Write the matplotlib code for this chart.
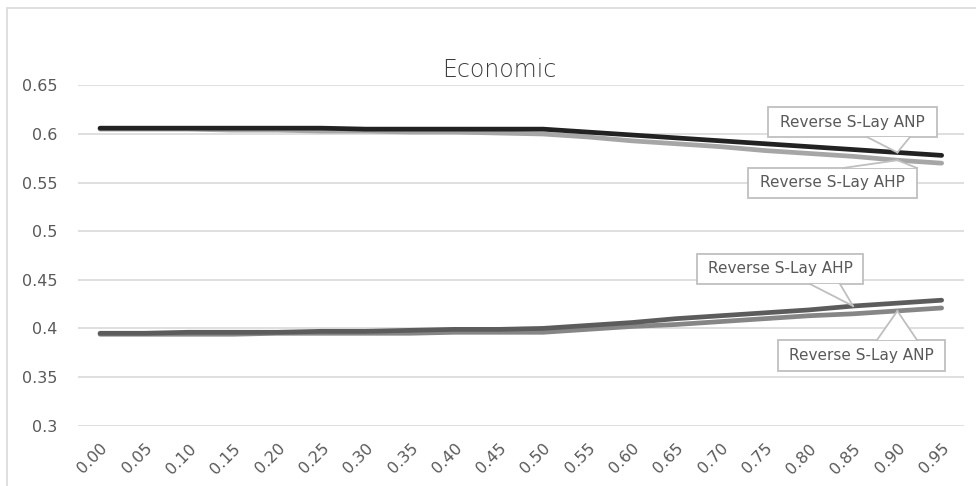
import matplotlib
matplotlib.use("Agg")
import matplotlib.pyplot as plt
from matplotlib.patches import Rectangle, Polygon
from matplotlib.lines import Line2D

# ---- data ----
categories = ["0.00", "0.05", "0.10", "0.15", "0.20", "0.25", "0.30", "0.35", "0.40", "0.45",
              "0.50", "0.55", "0.60", "0.65", "0.70", "0.75", "0.80", "0.85", "0.90", "0.95"]
anp_upper = [0.606, 0.606, 0.606, 0.606, 0.606, 0.606, 0.605, 0.605, 0.605, 0.605,
             0.605, 0.602, 0.599, 0.596, 0.593, 0.590, 0.587, 0.584, 0.581, 0.578]
ahp_upper = [0.605, 0.605, 0.605, 0.604, 0.604, 0.603, 0.603, 0.602, 0.602, 0.601,
             0.600, 0.597, 0.593, 0.590, 0.587, 0.583, 0.580, 0.577, 0.573, 0.570]
ahp_lower = [0.395, 0.395, 0.396, 0.396, 0.396, 0.397, 0.397, 0.398, 0.399, 0.399,
             0.400, 0.403, 0.406, 0.410, 0.413, 0.416, 0.419, 0.423, 0.426, 0.429]
anp_lower = [0.394, 0.394, 0.394, 0.394, 0.395, 0.395, 0.395, 0.395, 0.396, 0.396,
             0.396, 0.399, 0.402, 0.404, 0.407, 0.410, 0.413, 0.415, 0.418, 0.421]
yticks = [0.3, 0.35, 0.4, 0.45, 0.5, 0.55, 0.6, 0.65]
ytick_labels = ["0.3", "0.35", "0.4", "0.45", "0.5", "0.55", "0.6", "0.65"]
title = "Economic"
label_anp = "Reverse S-Lay ANP"
label_ahp = "Reverse S-Lay AHP"

W, H = 976, 486
plt.rcParams['font.family'] = ['DejaVu Sans']
fig = plt.figure(figsize=(W / 100, H / 100), dpi=100)
fig.patch.set_facecolor("white")

# chart frame
fig.patches.append(Rectangle((7 / W, -0.05), 1.1, 1 - 8 / H + 0.05, transform=fig.transFigure,
                             fill=False, ec="#d9d9d9", lw=1.2))

ax = fig.add_axes([77.9 / W, 1 - 425.6 / H, (963.8 - 77.9) / W, (425.6 - 85.4) / H])
x = list(range(len(categories)))
ax.set_xlim(-0.5, len(categories) - 0.5)
ax.set_ylim(0.3, 0.65)
ax.set_yticks(yticks)
ax.set_yticklabels(ytick_labels)
ax.set_xticks(x)
ax.set_xticklabels(categories, rotation=45, ha="right", va="top", rotation_mode="anchor")
ax.tick_params(axis="y", length=0, pad=15, labelsize=11.5, labelcolor="#595959")
ax.tick_params(axis="x", length=0, pad=11, labelsize=11.5, labelcolor="#595959")
for s in ax.spines.values():
    s.set_visible(False)
ax.grid(axis="y", color="#d9d9d9", lw=1.2)
ax.set_axisbelow(True)

kw = dict(lw=3.4, solid_capstyle="round", solid_joinstyle="round")
ax.plot(x, ahp_upper, color="#a6a6a6", zorder=3, **kw)
ax.plot(x, anp_upper, color="#222222", zorder=4, **kw)
ax.plot(x, anp_lower, color="#868686", zorder=3, **kw)
ax.plot(x, ahp_lower, color="#5c5c5c", zorder=4, **kw)

fig.text(499 / W, 1 - 70 / H, title, ha="center", va="center", fontsize=17,
         color="#3c3c3c", fontweight="light")


def fpx(px, py):
    return (px / W, 1 - py / H)


def callout(text, box, base, tip_data):
    x0, y0, x1, y1 = box
    fx0, fy1 = fpx(x0, y1)
    fx1, fy0 = fpx(x1, y0)
    fig.patches.append(Rectangle((fx0, fy1), fx1 - fx0, fy0 - fy1, transform=fig.transFigure,
                                 fc="white", ec="#bfbfbf", lw=1.3, zorder=5))
    disp = ax.transData.transform(tip_data)
    tip = fig.transFigure.inverted().transform(disp)
    b1 = fpx(*base[0])
    b2 = fpx(*base[1])
    fig.patches.append(Polygon([b1, b2, tip], closed=True, transform=fig.transFigure,
                               fc="white", ec="none", zorder=6))
    for b in (b1, b2):
        fig.lines.append(Line2D([b[0], tip[0]], [b[1], tip[1]], transform=fig.transFigure,
                                color="#bfbfbf", lw=1.3, zorder=7))
    fig.text((fx0 + fx1) / 2, (fy0 + fy1) / 2, text, ha="center", va="center",
             fontsize=11, color="#595959", zorder=8)


callout(label_anp, (768, 107, 937, 137), [(867, 137), (910, 137)], (18, anp_upper[18]))
callout(label_ahp, (748, 168, 917, 198), [(843, 168), (917, 168)], (18, ahp_upper[18]))
callout(label_ahp, (697, 254, 863, 284), [(810, 284), (840, 284)], (17, ahp_lower[17]))
callout(label_anp, (778, 340, 945, 371), [(877, 340), (917, 340)], (18, anp_lower[18]))

fig.savefig("out.png", dpi=100)
